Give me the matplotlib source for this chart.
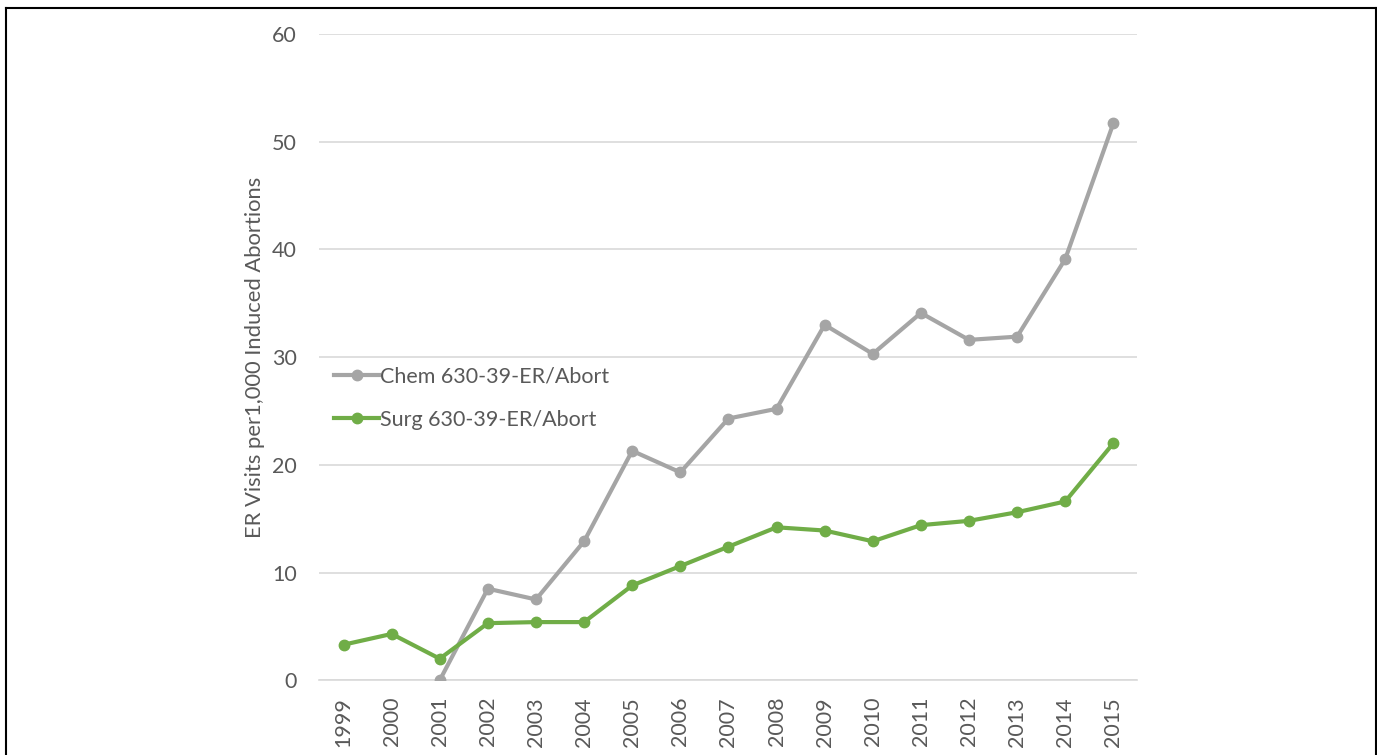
import matplotlib.pyplot as plt
from matplotlib.lines import Line2D

plt.rcParams['font.family'] = ['Lato', 'DejaVu Sans']

years = ['1999', '2000', '2001', '2002', '2003', '2004', '2005', '2006', '2007',
         '2008', '2009', '2010', '2011', '2012', '2013', '2014', '2015']
# chem series starts in 2001
chem_years = years[2:]
chem = [0.0, 8.5, 7.5, 12.9, 21.3, 19.3, 24.3, 25.2, 33.0, 30.3, 34.1, 31.6,
        31.9, 39.1, 51.7]
surg = [3.3, 4.3, 2.0, 5.3, 5.4, 5.4, 8.8, 10.6, 12.4, 14.2, 13.9, 12.9, 14.4,
        14.8, 15.6, 16.6, 22.0]
y_ticks = [0, 10, 20, 30, 40, 50, 60]

text_color = '#595959'

fig = plt.figure(figsize=(13.77, 7.55), dpi=100)
ax = fig.add_axes([0.232, 0.099, 0.594, 0.856])

xs = list(range(len(years)))
chem_x = [years.index(y) for y in chem_years]

ax.plot(chem_x, chem, '-o', color='#A5A5A5', lw=3, ms=7.5,
        label='Chem 630-39-ER/Abort', zorder=3)
ax.plot(xs, surg, '-o', color='#70AD47', lw=3, ms=7.5,
        label='Surg 630-39-ER/Abort', zorder=3)

ax.set_xlim(-0.5, len(years) - 0.5)
ax.set_ylim(0, 60)
ax.set_yticks(y_ticks)
ax.set_xticks(xs)
ax.set_xticklabels(years, rotation=90)
ax.tick_params(axis='both', length=0, labelsize=15.5, colors=text_color)
ax.tick_params(axis='y', pad=16.5)
ax.tick_params(axis='x', pad=12)

ax.grid(axis='y', color='#D9D9D9', lw=1.2)
ax.set_axisbelow(True)
for side in ['top', 'right', 'left']:
    ax.spines[side].set_visible(False)
ax.spines['bottom'].set_color('#D9D9D9')
ax.spines['bottom'].set_linewidth(1.2)

ax.set_ylabel('ER Visits per1,000 Induced Abortions', fontsize=15.8,
              color=text_color, labelpad=5)

leg = ax.legend(loc='upper left', bbox_to_anchor=(0.018, 0.486), frameon=False,
                fontsize=15.5, labelcolor=text_color, handlelength=2.1,
                handletextpad=0.05, labelspacing=1.1, borderpad=0,
                borderaxespad=0)

# frame around the figure (bottom edge is cropped off)
fig.add_artist(Line2D([0.004, 0.999], [0.990, 0.990], color='black', lw=1.5,
                      transform=fig.transFigure))
fig.add_artist(Line2D([0.004, 0.004], [0.0, 0.990], color='black', lw=1.5,
                      transform=fig.transFigure))
fig.add_artist(Line2D([0.999, 0.999], [0.0, 0.990], color='black', lw=1.5,
                      transform=fig.transFigure))

fig.savefig('out.png', dpi=100)
